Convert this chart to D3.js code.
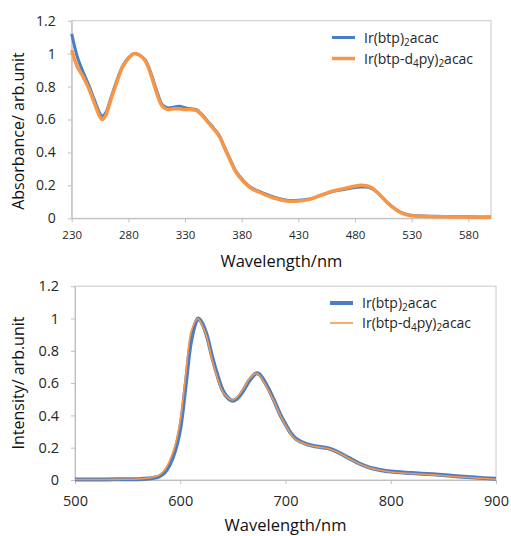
<!DOCTYPE html>
<html lang="en">
<head>
<meta charset="UTF-8">
<title>Absorption and emission spectra</title>
<script src="https://d3js.org/d3.v7.min.js"></script>
<style>
  body { margin: 0; background: #fff; }
  svg { font-family: "Open Sans", sans-serif; }
</style>
</head>
<body>
<svg id="chart" width="511" height="536"></svg>
<script>
// absorption spectra (top panel)
var absWl = [230, 235, 240, 245, 250, 255, 257, 260, 265, 270, 275, 280, 285, 290, 295, 300, 305, 310, 315, 320, 325,
  330, 335, 340, 345, 350, 355, 360, 365, 370, 375, 380, 385, 390, 395, 400, 410, 420, 430, 440, 450,
  460, 470, 480, 485, 490, 495, 500, 505, 510, 515, 520, 525, 530, 540, 550, 560, 570, 580, 590, 600];
var absBtp = [1.12, 0.98, 0.89, 0.81, 0.72, 0.635, 0.62, 0.64, 0.74, 0.84, 0.925, 0.975, 1.0, 0.99, 0.96, 0.88, 0.775, 0.69, 0.67, 0.675, 0.68,
  0.672, 0.665, 0.66, 0.63, 0.59, 0.55, 0.505, 0.43, 0.355, 0.285, 0.24, 0.205, 0.18, 0.165, 0.15, 0.125, 0.11, 0.11, 0.118, 0.14,
  0.162, 0.175, 0.187, 0.19, 0.19, 0.18, 0.155, 0.12, 0.087, 0.06, 0.038, 0.025, 0.018, 0.014, 0.012, 0.011, 0.01, 0.009, 0.008, 0.008];
var absD4py = [1.02, 0.92, 0.86, 0.79, 0.7, 0.615, 0.6, 0.625, 0.73, 0.83, 0.92, 0.97, 1.0, 0.99, 0.955, 0.87, 0.76, 0.68, 0.66, 0.665, 0.665,
  0.66, 0.66, 0.655, 0.625, 0.585, 0.545, 0.5, 0.425, 0.35, 0.28, 0.235, 0.2, 0.175, 0.16, 0.145, 0.12, 0.105, 0.105, 0.115, 0.14,
  0.165, 0.18, 0.195, 0.2, 0.198, 0.185, 0.155, 0.12, 0.085, 0.057, 0.035, 0.022, 0.015, 0.012, 0.01, 0.009, 0.008, 0.008, 0.007, 0.007];

// emission spectra (bottom panel)
var emWl = [500, 520, 540, 560, 570, 575, 580, 585, 590, 595, 600, 605, 610, 615, 617, 620, 625, 630, 635, 640,
  645, 650, 655, 660, 665, 670, 672, 675, 680, 685, 690, 695, 700, 705, 710, 720, 730, 740, 750, 760,
  770, 780, 790, 800, 820, 840, 860, 880, 900];
var emBtp = [0.003, 0.003, 0.004, 0.005, 0.009, 0.014, 0.022, 0.045, 0.095, 0.18, 0.32, 0.58, 0.85, 0.98, 1.0, 0.98, 0.9, 0.77, 0.655, 0.56,
  0.51, 0.49, 0.51, 0.555, 0.61, 0.65, 0.66, 0.655, 0.61, 0.55, 0.48, 0.405, 0.345, 0.29, 0.255, 0.222, 0.207, 0.197, 0.172, 0.137,
  0.102, 0.077, 0.062, 0.052, 0.043, 0.035, 0.025, 0.015, 0.007];
var emD4py = [0.003, 0.003, 0.004, 0.006, 0.012, 0.02, 0.03, 0.06, 0.12, 0.21, 0.37, 0.64, 0.91, 0.99, 1.0, 0.97, 0.89, 0.75, 0.64, 0.55,
  0.51, 0.495, 0.52, 0.565, 0.62, 0.655, 0.66, 0.65, 0.6, 0.54, 0.475, 0.4, 0.34, 0.285, 0.25, 0.22, 0.205, 0.195, 0.17, 0.135,
  0.1, 0.075, 0.06, 0.05, 0.04, 0.032, 0.022, 0.013, 0.005];

var absTicks = [230, 280, 330, 380, 430, 480, 530, 580];
var emTicks = [500, 600, 700, 800, 900];
var yTicks = [0, 0.2, 0.4, 0.6, 0.8, 1, 1.2];

var blue = "#4a7ec4", orange = "#f79646";

var svg = d3.select("#chart");

function drawPanel(o) {
  var x = d3.scaleLinear().domain(o.xDomain).range([o.left, o.right]);
  var y = d3.scaleLinear().domain([0, 1.2]).range([o.bottom, o.top]);

  var g = svg.append("g");

  // plot area frame
  g.append("rect")
    .attr("x", o.left).attr("y", o.top)
    .attr("width", o.right - o.left).attr("height", o.bottom - o.top)
    .attr("fill", "none").attr("stroke", "#c8c8c8").attr("stroke-width", 1);

  var xAxis = g.append("g")
    .attr("transform", "translate(0," + o.bottom + ")")
    .call(d3.axisBottom(x).tickValues(o.xTicks).tickSize(4).tickSizeOuter(0).tickPadding(o.xPad));
  var yAxis = g.append("g")
    .attr("transform", "translate(" + o.left + ",0)")
    .call(d3.axisLeft(y).tickValues(yTicks).tickSize(4).tickSizeOuter(0).tickPadding(12)
      .tickFormat(function (d) { return d === 0 || d === 1 ? d : d3.format(".1f")(d); }));
  [xAxis, yAxis].forEach(function (a) {
    a.select(".domain").attr("stroke", "#bfbfbf");
    a.selectAll(".tick line").attr("stroke", "#bfbfbf");
    a.selectAll(".tick text").attr("fill", "#262626").style("font-family", "Open Sans");
  });
  xAxis.selectAll(".tick text").style("font-size", o.xFont + "px");
  yAxis.selectAll(".tick text").style("font-size", o.yFont + "px");

  var line = d3.line().curve(d3.curveCatmullRom.alpha(0.5))
    .x(function (d) { return x(d[0]); })
    .y(function (d) { return y(d[1]); });

  g.append("path")
    .datum(d3.zip(o.wl, o.s1))
    .attr("d", line).attr("fill", "none")
    .attr("stroke", blue).attr("stroke-width", o.w1).attr("stroke-linejoin", "round");
  g.append("path")
    .datum(d3.zip(o.wl, o.s2))
    .attr("d", line).attr("fill", "none")
    .attr("stroke", orange).attr("stroke-width", o.w2).attr("stroke-linejoin", "round");

  // axis titles
  g.append("text")
    .attr("x", (o.left + o.right) / 2).attr("y", o.xTitleY)
    .attr("text-anchor", "middle").style("font-size", "16.5px").attr("fill", "#111")
    .text("Wavelength/nm");
  g.append("text")
    .attr("transform", "translate(24," + o.yTitleC + ") rotate(-90)")
    .attr("text-anchor", "middle").style("font-size", "16px").attr("fill", "#111")
    .text(o.yTitle);

  // legend
  var lg = g.append("g");
  lg.append("rect")
    .attr("x", o.legX - 12).attr("y", o.legY - 13)
    .attr("width", 165).attr("height", o.legGap + 26).attr("fill", "#fff");
  var labels = [["Ir(btp)", "2", "acac"], ["Ir(btp-d", "4", "py)", "2", "acac"]];
  [[blue, o.w1], [orange, o.w2]].forEach(function (s, i) {
    var cy = o.legY + i * o.legGap;
    lg.append("line")
      .attr("x1", o.legX).attr("x2", o.legX + 23)
      .attr("y1", cy).attr("y2", cy)
      .attr("stroke", s[0]).attr("stroke-width", s[1]);
    var t = lg.append("text")
      .attr("x", o.legX + 32).attr("y", cy + 5)
      .style("font-size", "14px").attr("fill", "#262626");
    labels[i].forEach(function (part, k) {
      var sub = k % 2 === 1;
      t.append("tspan")
        .attr("dy", sub ? 3 : (k === 0 ? 0 : -3))
        .style("font-size", sub ? "10px" : "14px")
        .text(part);
    });
  });
}

drawPanel({
  xDomain: [230, 600], left: 71.7, right: 491, top: 20.7, bottom: 218.3,
  xTicks: absTicks, xPad: 9, xFont: 11.5, yFont: 14,
  wl: absWl, s1: absBtp, s2: absD4py, w1: 3, w2: 3.5,
  xTitleY: 267, yTitle: "Absorbance/ arb.unit", yTitleC: 131,
  legX: 332, legY: 37.5, legGap: 21
});

drawPanel({
  xDomain: [500, 900], left: 75, right: 496, top: 286.2, bottom: 480,
  xTicks: emTicks, xPad: 12, xFont: 14.5, yFont: 14.5,
  wl: emWl, s1: emBtp, s2: emD4py, w1: 4, w2: 1.6,
  xTitleY: 531, yTitle: "Intensity/ arb.unit", yTitleC: 383,
  legX: 330, legY: 303, legGap: 20
});
</script>
</body>
</html>
